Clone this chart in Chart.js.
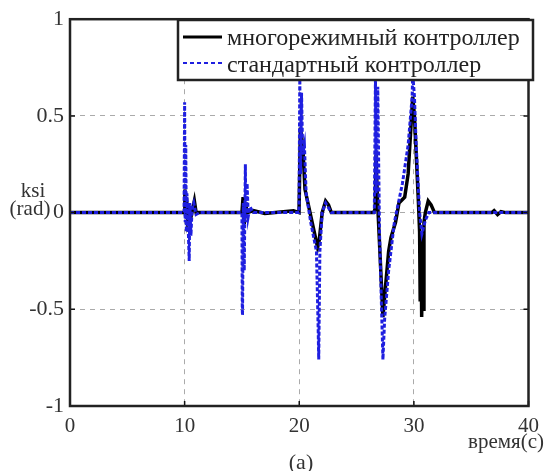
<!DOCTYPE html>
<html lang="ru">
<head>
<meta charset="utf-8" />
<title>ksi (rad)</title>
<script src="https://cdn.jsdelivr.net/npm/chart.js@4.4.0/dist/chart.umd.min.js"></script>
<style>
    html, body { margin: 0; padding: 0; background: #fff; }
    #wrap { width: 547px; height: 471px; }
</style>
</head>
<body>
<div id="wrap"><canvas id="myChart" width="547" height="471"></canvas></div>
<script>
// series names (legend)
var seriesNames = ["многорежимный контроллер", "стандартный контроллер"];

// multi-mode controller (black solid)
var multiTime = [0, 9.95, 10.02, 10.08, 10.15, 10.25, 10.4, 10.6, 10.85, 11.0, 11.3,
    15.0, 15.1, 15.2, 15.3, 15.5, 16.0, 17.0, 19.5, 19.98,
    20.1, 20.3, 20.5, 21.6, 21.75, 22.0, 22.3, 22.55, 22.8,
    26.5, 26.62, 26.7, 26.8, 27.3, 27.5, 27.8, 28.0, 28.4, 28.7, 29.2, 29.5, 29.9, 30.05,
    30.4, 30.5, 30.55, 30.62, 30.68, 30.75, 30.8, 30.88, 31.0, 31.25, 31.5, 31.8,
    36.8, 37.0, 37.3, 37.6, 38.0, 40];
var multiKsi = [0, 0, 0.12, -0.02, 0.08, -0.03, 0.02, -0.01, 0.06, 0.0, 0.0,
    0.0, 0.08, -0.06, 0.04, 0.0, 0.01, -0.005, 0.01, 0.0,
    0.44, 0.35, 0.12, -0.18, -0.14, 0.0, 0.06, 0.04, 0.0,
    0.0, 0.02, 0.3, 0.1, -0.54, -0.4, -0.2, -0.13, -0.05, 0.05, 0.08, 0.2, 0.6, 0.5,
    0.05, -0.1, -0.45, -0.1, -0.54, -0.2, -0.5, -0.05, 0.0, 0.06, 0.04, 0.0,
    0.0, 0.01, -0.01, 0.005, 0, 0];

// standard controller (blue dashed)
var stdTime = [0, 9.95, 10.0, 10.03, 10.05, 10.1, 10.15, 10.2, 10.3, 10.4, 10.45, 10.55, 10.65, 10.8, 11.0, 11.3,
    15.0, 15.03, 15.05, 15.12, 15.2, 15.3, 15.33, 15.38, 15.45, 15.55, 15.7, 16.0,
    19.98, 20.05, 20.08, 20.12, 20.2, 20.3, 20.45, 20.6, 21.0, 21.5, 21.65, 21.7, 21.8, 22.0, 22.3, 22.8,
    26.55, 26.65, 26.7, 26.75, 26.85, 27.0, 27.3, 27.45, 27.8, 28.3, 29.0, 29.5, 29.85, 29.9, 30.05, 30.2,
    30.5, 30.7, 31.0, 31.3, 40];
var stdKsi = [0, 0, 0.57, 0.1, -0.05, 0.35, -0.1, 0.1, -0.05, -0.25, 0.05, -0.12, 0.02, 0.05, -0.01, 0,
    0, -0.5, -0.53, 0.05, -0.3, 0.25, 0.0, -0.05, 0.15, -0.02, 0.03, 0,
    0, 0.72, 0.3, 0.2, 0.62, 0.3, 0.35, 0.1, -0.05, -0.2, -0.6, -0.76, -0.2, 0.0, 0.05, 0,
    0, 0.72, 0.1, 0.2, 0.65, -0.1, -0.76, -0.55, -0.3, -0.05, 0.15, 0.35, 0.6, 0.72, 0.6, 0.35,
    0.0, -0.11, -0.04, 0, 0];

var xTicks = [0, 10, 20, 30, 40];
var yTicks = [1, 0.5, 0, -0.5, -1];

var serif = '"Liberation Serif", "DejaVu Serif", serif';

function toPoints(ts, vs) {
    return ts.map(function (t, i) { return { x: t, y: vs[i] }; });
}

var framePlugin = {
    id: 'frame',
    afterDatasetsDraw: function (chart) {
        var ctx = chart.ctx, a = chart.chartArea;
        var xs = chart.scales.x, ys = chart.scales.y;
        ctx.save();
        ctx.strokeStyle = '#111';
        ctx.lineWidth = 1.5;
        ctx.beginPath();
        xTicks.forEach(function (v) {
            var px = xs.getPixelForValue(v);
            ctx.moveTo(px, a.bottom); ctx.lineTo(px, a.bottom - 5);
            ctx.moveTo(px, a.top); ctx.lineTo(px, a.top + 5);
        });
        yTicks.forEach(function (v) {
            var py = ys.getPixelForValue(v);
            ctx.moveTo(a.left, py); ctx.lineTo(a.left + 5, py);
            ctx.moveTo(a.right, py); ctx.lineTo(a.right - 5, py);
        });
        ctx.stroke();
        // axes box
        ctx.lineWidth = 2.5;
        ctx.strokeStyle = '#222';
        ctx.strokeRect(a.left, a.top, a.right - a.left, a.bottom - a.top);

        // legend box
        var lx = 178, ly = 20, lw = 355, lh = 60;
        ctx.fillStyle = '#fff';
        ctx.fillRect(lx, ly, lw, lh);
        ctx.lineWidth = 2.5;
        ctx.strokeStyle = '#222';
        ctx.strokeRect(lx, ly, lw, lh);

        ctx.beginPath();
        ctx.lineWidth = 3;
        ctx.strokeStyle = '#000';
        ctx.moveTo(lx + 5, 37); ctx.lineTo(lx + 44, 37);
        ctx.stroke();
        ctx.beginPath();
        ctx.lineWidth = 2;
        ctx.strokeStyle = '#1f1fe0';
        ctx.setLineDash([4, 3]);
        ctx.moveTo(lx + 5, 63); ctx.lineTo(lx + 44, 63);
        ctx.stroke();
        ctx.setLineDash([]);

        ctx.fillStyle = '#222';
        ctx.font = '24px ' + serif;
        ctx.textAlign = 'left';
        ctx.textBaseline = 'alphabetic';
        ctx.fillText(seriesNames[0], lx + 49, 45);
        ctx.fillText(seriesNames[1], lx + 49, 72);
        ctx.restore();
    },
    afterDraw: function (chart) {
        var ctx = chart.ctx;
        ctx.save();
        ctx.fillStyle = '#333';
        ctx.font = '21px ' + serif;
        ctx.textAlign = 'center';
        ctx.textBaseline = 'alphabetic';
        ctx.fillText('ksi', 33, 197);
        ctx.fillText('(rad)', 30, 215);
        ctx.textAlign = 'right';
        ctx.fillText('время(с)', 544, 448);
        ctx.textAlign = 'center';
        ctx.font = '22px ' + serif;
        ctx.fillText('(a)', 301, 469);
        ctx.restore();
    }
};

var ctx = document.getElementById('myChart');
var myChart = new Chart(ctx, {
    type: 'line',
    data: {
        datasets: [{
            label: seriesNames[0],
            data: toPoints(multiTime, multiKsi),
            borderColor: '#000',
            borderWidth: 3.5,
            pointRadius: 0,
            tension: 0,
            fill: false,
            order: 1
        }, {
            label: seriesNames[1],
            data: toPoints(stdTime, stdKsi),
            borderColor: '#1f1fe0',
            borderWidth: 3,
            borderDash: [4, 2],
            pointRadius: 0,
            tension: 0,
            fill: false,
            order: 0
        }]
    },
    options: {
        responsive: false,
        animation: false,
        layout: {
            autoPadding: false,
            padding: { left: 0, top: 19, right: 10, bottom: 0 }
        },
        plugins: {
            legend: { display: false },
            tooltip: { enabled: false }
        },
        scales: {
            x: {
                type: 'linear',
                min: 0,
                max: 40,
                afterBuildTicks: function (scale) {
                    scale.ticks = xTicks.map(function (v) { return { value: v }; });
                },
                afterFit: function (scale) { scale.height = 65; },
                grid: { color: '#aaa', lineWidth: 1, drawTicks: false },
                border: { display: false, dash: [5, 5] },
                ticks: {
                    padding: 8,
                    color: '#333',
                    maxRotation: 0,
                    font: { family: serif, size: 21 },
                    callback: function (v) { return String(v); }
                }
            },
            y: {
                type: 'linear',
                min: -1,
                max: 1,
                afterBuildTicks: function (scale) {
                    scale.ticks = yTicks.map(function (v) { return { value: v }; });
                },
                afterFit: function (scale) { scale.width = 70; },
                grid: { color: '#aaa', lineWidth: 1, drawTicks: false },
                border: { display: false, dash: [5, 5] },
                ticks: {
                    padding: 6,
                    color: '#333',
                    font: { family: serif, size: 22 },
                    callback: function (v) { return String(v); }
                }
            }
        }
    },
    plugins: [framePlugin]
});
</script>
</body>
</html>
